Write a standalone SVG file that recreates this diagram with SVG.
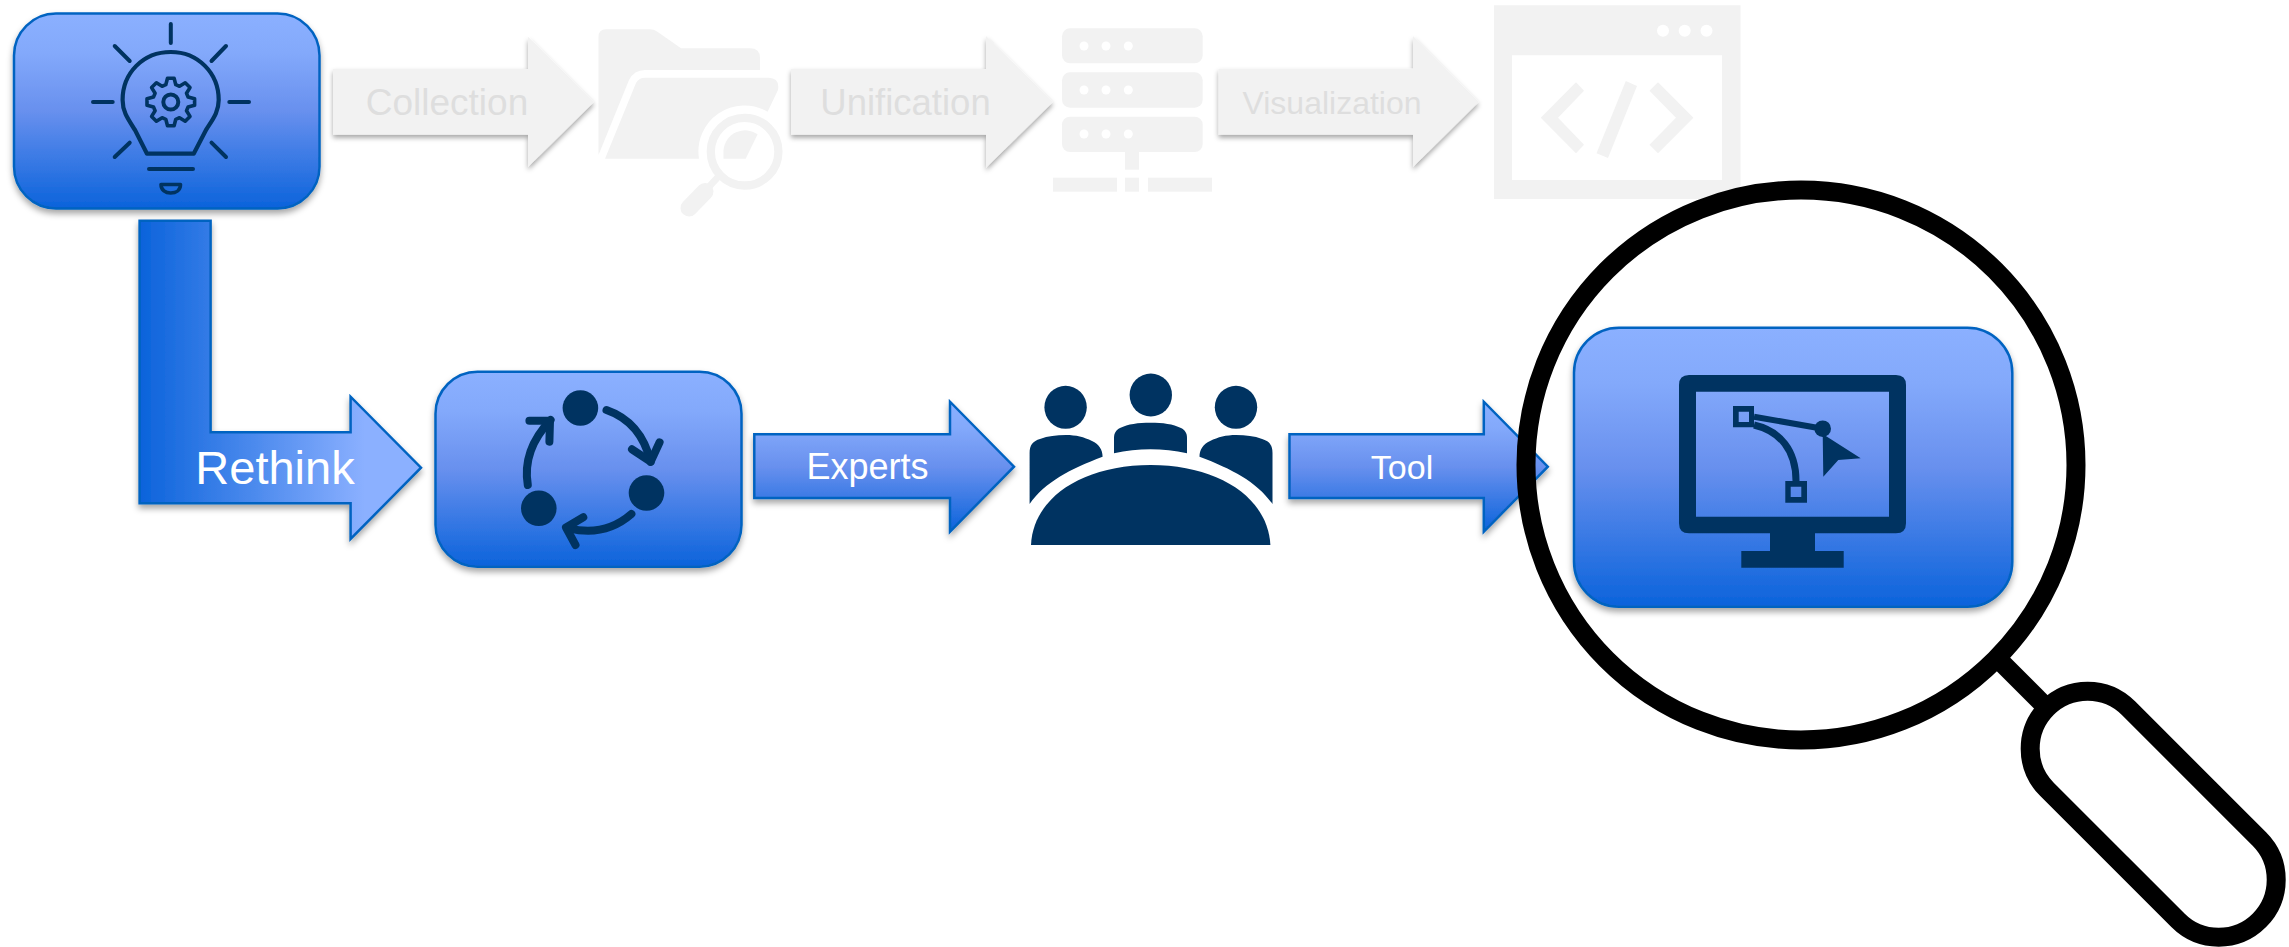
<svg xmlns="http://www.w3.org/2000/svg" xmlns:xlink="http://www.w3.org/1999/xlink" width="2289" height="947" viewBox="0 0 2289 947">
<style>
.box{fill:url(#gv);stroke:#0563C1;stroke-width:2.5;filter:url(#sh)}
.arr{fill:url(#gv);stroke:#0563C1;stroke-width:2.5;filter:url(#sh)}
.gar{fill:#F2F2F2;filter:url(#sh2)}
.g{fill:#F2F2F2}
.w{fill:#FFFFFF}
.d{fill:#003361}
.ds{fill:none;stroke:#003361;stroke-linecap:round;stroke-linejoin:round}
.lb{font-family:"Liberation Sans",Arial,sans-serif;fill:#FFFFFF;text-anchor:middle}
.gl{font-family:"Liberation Sans",Arial,sans-serif;fill:#DEDEDE;text-anchor:middle}
.mag{fill:none;stroke:#000000;stroke-width:19}
</style>
<defs>
<linearGradient id="gv" x1="0" y1="0" x2="0" y2="1"><stop offset="0" stop-color="#8BB0FF"/><stop offset="0.2" stop-color="#83A9FB"/><stop offset="0.5" stop-color="#6890EE"/><stop offset="1" stop-color="#0B63DB"/></linearGradient>
<linearGradient id="gh" gradientUnits="userSpaceOnUse" x1="139.6" y1="0" x2="421" y2="0"><stop offset="0" stop-color="#0B63DB"/><stop offset="0.8" stop-color="#8BB0FF"/><stop offset="1" stop-color="#8BB0FF"/></linearGradient>
<filter id="sh" x="-10%" y="-10%" width="120%" height="125%"><feDropShadow dx="0" dy="4" stdDeviation="3" flood-color="#000" flood-opacity="0.35"/></filter>
<filter id="sh2" x="-10%" y="-10%" width="120%" height="125%"><feDropShadow dx="0" dy="3" stdDeviation="2.5" flood-color="#000" flood-opacity="0.35"/></filter>
</defs>

<g id="node-folder">
<path class="g" d="M598.5 155V37Q598.5 29.3 606 29.3H650Q654 29.3 657 31.5L681 48.3H750Q760 48.3 760 58V70H645Q634 70 629 80Z"/>
<path class="g" d="M605 158.7L636 83Q639 77.7 645 77.7H768.7Q780 78 778 90L767.6 111.7A46 46 0 0 0 699 158.7Z"/>
<path class="g" d="M723.5 158.7H745.7L757.6 134.3A21.7 21.7 0 0 0 723.5 150Z"/>
<circle cx="744.6" cy="151.7" r="33.8" fill="none" stroke="#F2F2F2" stroke-width="8.3"/>
<path d="M718 177L706 190" fill="none" stroke="#F2F2F2" stroke-width="7"/>
<path d="M705 191.5L689 208" fill="none" stroke="#F2F2F2" stroke-width="17" stroke-linecap="round"/>
</g>

<g id="node-server">
<rect class="g" x="1062" y="28.3" width="140.7" height="35" rx="8"/>
<rect class="g" x="1062" y="72.3" width="140.7" height="35.4" rx="8"/>
<rect class="g" x="1062" y="116.7" width="140.7" height="35.3" rx="8"/>
<g class="w"><circle cx="1084" cy="46" r="4.5"/><circle cx="1106" cy="46" r="4.5"/><circle cx="1128.3" cy="46" r="4.5"/><circle cx="1084" cy="90" r="4.5"/><circle cx="1106" cy="90" r="4.5"/><circle cx="1128.3" cy="90" r="4.5"/><circle cx="1084" cy="134" r="4.5"/><circle cx="1106" cy="134" r="4.5"/><circle cx="1128.3" cy="134" r="4.5"/></g>
<rect class="g" x="1125" y="152" width="14" height="17.7"/>
<rect class="g" x="1053" y="177.7" width="64" height="14"/>
<rect class="g" x="1125" y="177.7" width="14" height="14"/>
<rect class="g" x="1148" y="177.7" width="64" height="14"/>
</g>

<g id="node-browser">
<path class="g" fill-rule="evenodd" d="M1494 5.3H1740.5V199H1494ZM1512 55.3V180H1722V55.3Z"/>
<g class="w"><circle cx="1663" cy="30.7" r="6"/><circle cx="1684.7" cy="30.7" r="6"/><circle cx="1706.5" cy="30.7" r="6"/></g>
<polygon class="g" points="1576,82.3 1540.8,117.7 1576,153.3 1584,144.7 1558,117.7 1584,90.7"/>
<polygon class="g" points="1658,82.3 1693.4,117.7 1658,153.3 1649.5,144.7 1676,117.7 1649.5,90.7"/>
<polygon class="g" points="1625.8,81 1637,86 1608,158 1596.5,153.3"/>
</g>

<g id="connectors">
<g id="arrow-collection">
<polygon class="gar" points="333,69 528,69 528,36.7 594,102 528,167 528,134.7 333,134.7"/>
<text class="gl" x="447" y="115" font-size="37">Collection</text>
</g>
<g id="arrow-unification">
<polygon class="gar" points="791,69 986,69 986,36 1053,102 986,167.7 986,134.7 791,134.7"/>
<text class="gl" x="905.5" y="115" font-size="36.5">Unification</text>
</g>
<g id="arrow-visualization">
<polygon class="gar" points="1218.5,68.7 1413,68.7 1413,36 1478.7,102 1413,167 1413,134.7 1218.5,134.7"/>
<text class="gl" x="1332" y="114" font-size="32">Visualization</text>
</g>
<g id="arrow-rethink">
<polygon fill="url(#gh)" stroke="#0563C1" stroke-width="2.5" filter="url(#sh)" points="139.6,220.7 210.6,220.7 210.6,432.3 350.6,432.3 350.6,396.7 421,467.7 350.6,539 350.6,503.3 139.6,503.3"/>
<text class="lb" x="275" y="484.3" font-size="47">Rethink</text>
</g>
<g id="arrow-experts">
<polygon class="arr" points="754.3,434.3 950,434.3 950,401.7 1014,466.7 950,531.7 950,498 754.3,498"/>
<text class="lb" x="867.5" y="479" font-size="36">Experts</text>
</g>
<g id="arrow-tool">
<polygon class="arr" points="1289.5,434.3 1483.8,434.3 1483.8,401.7 1547.8,466.7 1483.8,531.7 1483.8,498 1289.5,498"/>
<text class="lb" x="1402" y="479" font-size="34">Tool</text>
</g>
</g>

<g id="node-idea">
<rect class="box" x="14" y="13.5" width="305.5" height="195" rx="42"/>
<g class="ds" stroke-width="4">
<path d="M170.8 24V43M114.7 46L129.7 61M226 46L211.5 61M93 102H112.7M229.3 102H249M129.7 142.7L114.7 157M211.5 142.7L226 157"/>
<path stroke-width="4.2" d="M147 153.7H193.7L206 130C213 119 218.7 112 218.7 100C218.7 73 198 52 170.8 52C143 52 122.6 73 122.6 100C122.6 112 128 119 135 130Z"/>
<polygon transform="translate(170.8 102)" stroke-width="3.6" points="17.3,-5 23.8,-3.3 23.8,3.3 17.3,5 15.7,8.7 19.2,14.4 14.4,19.2 8.7,15.7 5,17.3 3.3,23.8 -3.3,23.8 -5,17.3 -8.7,15.7 -14.4,19.2 -19.2,14.4 -15.7,8.7 -17.3,5 -23.8,3.3 -23.8,-3.3 -17.3,-5 -15.7,-8.7 -19.2,-14.4 -14.4,-19.2 -8.7,-15.7 -5,-17.3 -3.3,-23.8 3.3,-23.8 5,-17.3 8.7,-15.7 14.4,-19.2 19.2,-14.4 15.7,-8.7"/>
<circle cx="170.8" cy="102" r="7.5"/>
<path d="M149 169H193"/>
<path stroke-width="3.6" d="M161 184.5H180.5C180.5 190 176 193 170.7 193C165.5 193 161 190 161 184.5Z"/>
</g>
</g>

<g id="node-cycle">
<rect class="box" x="435.5" y="371.7" width="306" height="195" rx="42"/>
<circle class="d" cx="580.4" cy="408" r="17.8"/>
<circle class="d" cx="646.5" cy="493" r="17.8"/>
<circle class="d" cx="538.8" cy="508.3" r="17.8"/>
<g class="ds" stroke-width="8">
<path d="M606.5 410Q641 422 650.6 461.7"/>
<path d="M632 449.3L650.6 461.7L659.6 442.3"/>
<path d="M631.4 514Q605 537 569 528.3"/>
<path d="M583.3 517.3L566 527.5L575.5 545"/>
<path d="M527.8 485Q522 450 550.6 420"/>
<path d="M529.4 420.7H550L549.4 441.7"/>
</g>
</g>

<g id="node-experts">
<ellipse class="d" cx="1065.6" cy="407.3" rx="21.2" ry="21.5"/>
<ellipse class="d" cx="1150.8" cy="395" rx="21.2" ry="21.5"/>
<ellipse class="d" cx="1236" cy="407.3" rx="21.2" ry="21.5"/>
<path id="body-left" class="d" d="M1029.6 504V453C1029.6 445 1033 441 1040 439C1048 436 1056 435 1066 435C1076 435 1084 437 1092 441C1099 444 1102.6 450 1102.6 456.7C1070 469 1045 482 1029.6 504Z"/>
<path class="d" transform="matrix(-1 0 0 1 2302.1 0)" d="M1029.6 504V453C1029.6 445 1033 441 1040 439C1048 436 1056 435 1066 435C1076 435 1084 437 1092 441C1099 444 1102.6 450 1102.6 456.7C1070 469 1045 482 1029.6 504Z"/>
<path class="d" d="M1114 453.3V438C1114 433 1116 430 1120 428C1128 424 1138 422.7 1150.5 422.7C1163 422.7 1173 424 1181 428C1185 430 1187 433 1187 438V453.3C1163 448 1138 448 1114 453.3Z"/>
<path class="d" d="M1031 545C1033 498 1082 465 1150.7 465C1219 465 1268 498 1270.4 545Z"/>
</g>

<g id="node-tool">
<rect class="box" x="1574" y="327.7" width="438.3" height="279" rx="45"/>
<path class="d" fill-rule="evenodd" d="M1689 375H1896Q1906 375 1906 385V523.3Q1906 533.3 1896 533.3H1815V551H1843.7V567.7H1741.3V551H1770V533.3H1689Q1679 533.3 1679 523.3V385Q1679 375 1689 375ZM1696 391.7V516.7H1889V391.7Z"/>
<path class="d" fill-rule="evenodd" d="M1733 406H1754V427.3H1733ZM1738.7 411.7V422H1749V411.7Z"/>
<path class="d" fill-rule="evenodd" d="M1785.3 481H1807V502.7H1785.3ZM1790.7 486.7V497H1801.3V486.7Z"/>
<path d="M1754 416.7L1822.7 428.7" fill="none" stroke="#003361" stroke-width="6"/>
<path d="M1754 425C1780 431 1796 450 1796 481" fill="none" stroke="#003361" stroke-width="7"/>
<circle class="d" cx="1822.7" cy="428.7" r="8.3"/>
<polygon class="d" points="1822.7,434 1860.7,458.3 1838.3,460 1823.3,476.7"/>
</g>

<g id="magnifier">
<circle class="mag" cx="1801" cy="465" r="275"/>
<path class="mag" d="M1999 660L2044 705"/>
<rect class="mag" x="2003.05" y="756.7" width="300.3" height="115" rx="57.5" transform="rotate(45 2153.2 814.2)"/>
</g>
</svg>
